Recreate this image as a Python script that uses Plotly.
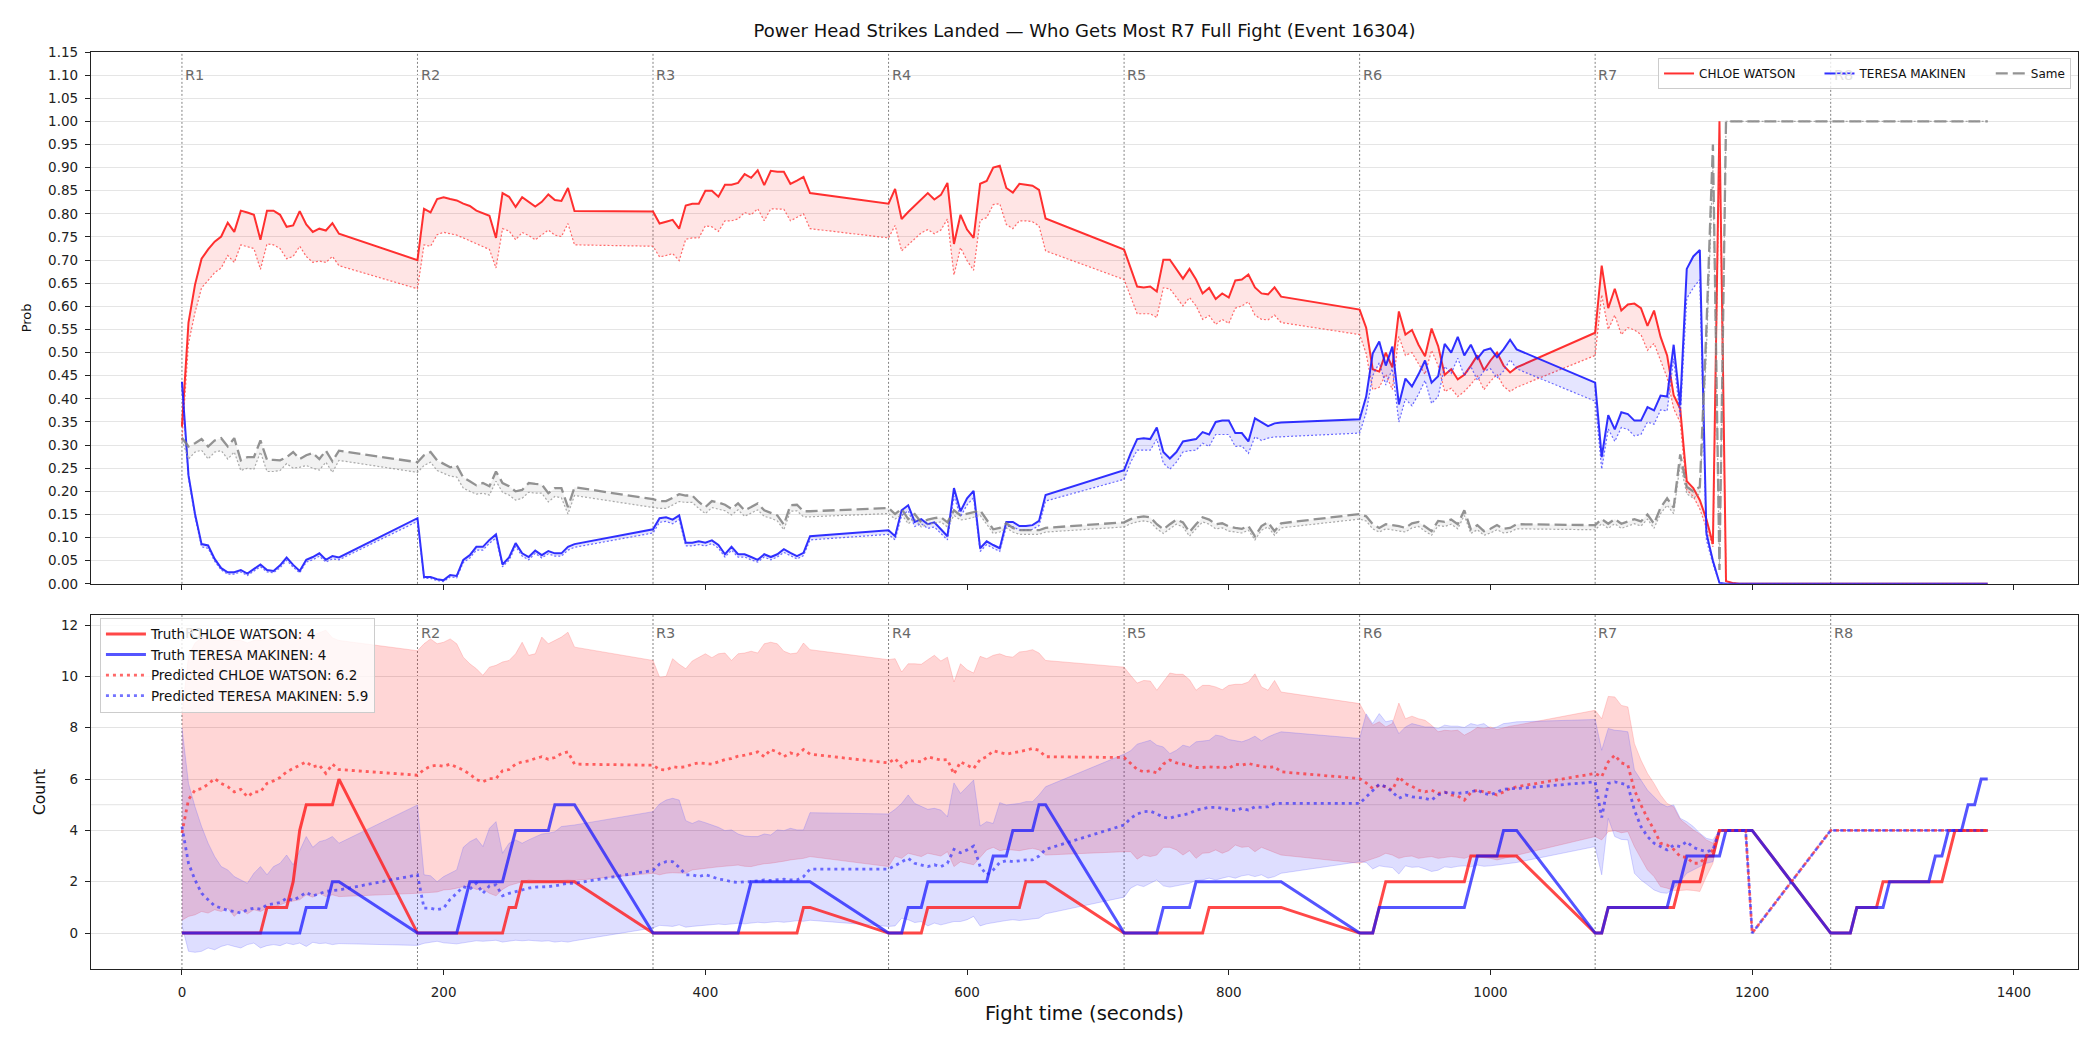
import plotly.graph_objects as go

# ---------------- time grid ----------------
ROUND_STARTS = [0, 180, 360, 540, 720, 900, 1080, 1260]
ROUND_NAMES = ["R1", "R2", "R3", "R4", "R5", "R6", "R7", "R8"]
OFFSETS = [0, 5, 10, 15, 20, 25, 30, 35, 40, 45, 50, 55, 60, 65, 70, 75, 80, 85, 90, 95, 100, 105, 110, 115, 120]
TIME = [s + o for s in ROUND_STARTS for o in OFFSETS]

FIGHTER_A = "CHLOE WATSON"
FIGHTER_B = "TERESA MAKINEN"

# ---------------- top panel: probabilities ----------------
PROB_A = [
    [0.34, 0.565, 0.647, 0.703, 0.723, 0.74, 0.751, 0.781, 0.761, 0.807, 0.803, 0.798, 0.744, 0.807, 0.807, 0.798, 0.772, 0.775, 0.806, 0.777, 0.761, 0.768, 0.764, 0.78, 0.757],
    [0.70, 0.811, 0.803, 0.832, 0.836, 0.832, 0.829, 0.822, 0.817, 0.807, 0.802, 0.796, 0.748, 0.845, 0.837, 0.815, 0.836, 0.826, 0.816, 0.826, 0.842, 0.83, 0.828, 0.856, 0.806],
    [0.805, 0.779, 0.783, 0.787, 0.768, 0.818, 0.822, 0.822, 0.85, 0.85, 0.837, 0.863, 0.863, 0.867, 0.886, 0.878, 0.894, 0.862, 0.893, 0.891, 0.891, 0.865, 0.872, 0.88, 0.845],
    [0.822, 0.854, 0.789, 0.804, 0.818, 0.833, 0.845, 0.831, 0.841, 0.867, 0.735, 0.798, 0.766, 0.748, 0.865, 0.871, 0.9, 0.904, 0.856, 0.846, 0.865, 0.863, 0.861, 0.852, 0.79],
    [0.723, 0.681, 0.643, 0.641, 0.643, 0.632, 0.701, 0.701, 0.681, 0.66, 0.681, 0.658, 0.628, 0.64, 0.616, 0.628, 0.619, 0.656, 0.658, 0.669, 0.641, 0.628, 0.626, 0.641, 0.621],
    [0.593, 0.554, 0.464, 0.459, 0.5, 0.468, 0.589, 0.539, 0.549, 0.517, 0.492, 0.552, 0.514, 0.452, 0.464, 0.442, 0.452, 0.472, 0.494, 0.462, 0.483, 0.5, 0.472, 0.457, 0.468],
    [0.543, 0.688, 0.596, 0.638, 0.591, 0.604, 0.606, 0.596, 0.558, 0.591, 0.534, 0.494, 0.408, 0.379, 0.222, 0.207, 0.181, 0.14, 0.086, 1.0, 0.006, 0.002, 0.0, 0.0, 0.0],
    [0.0] * 25,
]
PROB_A_ALT = [
    [0.31, 0.52, 0.587, 0.64, 0.656, 0.673, 0.683, 0.71, 0.695, 0.733, 0.729, 0.725, 0.68, 0.735, 0.733, 0.725, 0.703, 0.708, 0.73, 0.708, 0.695, 0.698, 0.695, 0.708, 0.688],
    [0.638, 0.733, 0.73, 0.755, 0.76, 0.757, 0.754, 0.748, 0.742, 0.736, 0.729, 0.723, 0.683, 0.768, 0.763, 0.744, 0.76, 0.753, 0.744, 0.754, 0.765, 0.754, 0.751, 0.779, 0.733],
    [0.73, 0.707, 0.71, 0.714, 0.699, 0.745, 0.748, 0.748, 0.774, 0.772, 0.762, 0.785, 0.785, 0.789, 0.803, 0.798, 0.811, 0.785, 0.811, 0.81, 0.81, 0.785, 0.792, 0.8, 0.768],
    [0.748, 0.775, 0.72, 0.733, 0.745, 0.759, 0.766, 0.757, 0.765, 0.789, 0.668, 0.727, 0.699, 0.678, 0.786, 0.792, 0.82, 0.822, 0.777, 0.768, 0.785, 0.785, 0.783, 0.774, 0.72],
    [0.658, 0.621, 0.584, 0.584, 0.584, 0.576, 0.64, 0.638, 0.619, 0.601, 0.619, 0.601, 0.572, 0.58, 0.561, 0.572, 0.563, 0.596, 0.601, 0.61, 0.581, 0.572, 0.571, 0.581, 0.565],
    [0.539, 0.498, 0.42, 0.425, 0.453, 0.42, 0.535, 0.494, 0.5, 0.476, 0.453, 0.505, 0.472, 0.416, 0.423, 0.405, 0.416, 0.431, 0.449, 0.42, 0.438, 0.453, 0.427, 0.416, 0.425],
    [0.494, 0.625, 0.55, 0.581, 0.539, 0.554, 0.549, 0.539, 0.505, 0.52, 0.483, 0.446, 0.379, 0.349, 0.203, 0.189, 0.162, 0.121, 0.08, 0.95, 0.005, 0.002, 0.0, 0.0, 0.0],
    [0.0] * 25,
]
PROB_B = [
    [0.437, 0.235, 0.151, 0.086, 0.083, 0.054, 0.034, 0.025, 0.025, 0.03, 0.022, 0.032, 0.042, 0.03, 0.028, 0.04, 0.057, 0.041, 0.028, 0.052, 0.058, 0.066, 0.052, 0.06, 0.057],
    [0.142, 0.015, 0.015, 0.01, 0.008, 0.019, 0.017, 0.052, 0.062, 0.08, 0.08, 0.095, 0.107, 0.042, 0.057, 0.088, 0.066, 0.058, 0.072, 0.062, 0.071, 0.066, 0.066, 0.08, 0.086],
    [0.118, 0.142, 0.144, 0.139, 0.148, 0.089, 0.089, 0.092, 0.089, 0.094, 0.084, 0.064, 0.08, 0.064, 0.064, 0.058, 0.052, 0.064, 0.058, 0.064, 0.075, 0.067, 0.06, 0.067, 0.103],
    [0.116, 0.103, 0.159, 0.17, 0.134, 0.14, 0.129, 0.133, 0.118, 0.103, 0.207, 0.157, 0.185, 0.201, 0.077, 0.092, 0.084, 0.077, 0.134, 0.134, 0.125, 0.125, 0.127, 0.136, 0.192],
    [0.246, 0.282, 0.313, 0.315, 0.313, 0.338, 0.285, 0.271, 0.285, 0.308, 0.31, 0.313, 0.328, 0.323, 0.35, 0.353, 0.353, 0.326, 0.326, 0.308, 0.358, 0.349, 0.341, 0.347, 0.349],
    [0.356, 0.405, 0.498, 0.524, 0.472, 0.513, 0.388, 0.444, 0.427, 0.453, 0.483, 0.435, 0.449, 0.519, 0.5, 0.534, 0.494, 0.517, 0.487, 0.505, 0.509, 0.49, 0.507, 0.528, 0.507],
    [0.435, 0.274, 0.365, 0.334, 0.371, 0.367, 0.353, 0.353, 0.382, 0.375, 0.407, 0.405, 0.517, 0.386, 0.681, 0.708, 0.722, 0.11, 0.05, 0.002, 0.0, 0.0, 0.0, 0.0, 0.0],
    [0.0] * 25,
]
PROB_B_ALT = [
    [0.43, 0.228, 0.145, 0.08, 0.077, 0.049, 0.03, 0.021, 0.021, 0.026, 0.018, 0.028, 0.037, 0.026, 0.024, 0.035, 0.051, 0.036, 0.024, 0.047, 0.052, 0.06, 0.047, 0.054, 0.052],
    [0.135, 0.012, 0.012, 0.007, 0.005, 0.015, 0.013, 0.046, 0.056, 0.073, 0.073, 0.088, 0.099, 0.037, 0.051, 0.081, 0.06, 0.052, 0.066, 0.056, 0.065, 0.06, 0.06, 0.073, 0.079],
    [0.11, 0.133, 0.135, 0.13, 0.139, 0.082, 0.082, 0.085, 0.082, 0.087, 0.077, 0.058, 0.073, 0.058, 0.058, 0.052, 0.047, 0.058, 0.052, 0.058, 0.068, 0.061, 0.054, 0.061, 0.095],
    [0.107, 0.095, 0.148, 0.158, 0.124, 0.13, 0.12, 0.123, 0.109, 0.095, 0.19, 0.145, 0.171, 0.186, 0.07, 0.085, 0.077, 0.07, 0.124, 0.124, 0.116, 0.116, 0.118, 0.126, 0.179],
    [0.226, 0.263, 0.289, 0.289, 0.289, 0.313, 0.261, 0.248, 0.263, 0.285, 0.288, 0.289, 0.304, 0.297, 0.323, 0.323, 0.323, 0.297, 0.298, 0.282, 0.318, 0.31, 0.315, 0.318, 0.318],
    [0.326, 0.37, 0.45, 0.478, 0.43, 0.465, 0.35, 0.4, 0.385, 0.41, 0.44, 0.39, 0.405, 0.47, 0.455, 0.488, 0.45, 0.47, 0.44, 0.46, 0.465, 0.445, 0.46, 0.485, 0.465],
    [0.395, 0.248, 0.335, 0.308, 0.338, 0.334, 0.32, 0.323, 0.35, 0.345, 0.376, 0.374, 0.487, 0.36, 0.617, 0.64, 0.658, 0.095, 0.043, 0.002, 0.0, 0.0, 0.0, 0.0, 0.0],
    [0.0] * 25,
]
PROB_SAME = [
    [0.316, 0.297, 0.304, 0.313, 0.297, 0.31, 0.315, 0.297, 0.315, 0.267, 0.274, 0.274, 0.31, 0.268, 0.268, 0.267, 0.274, 0.285, 0.27, 0.278, 0.283, 0.27, 0.288, 0.265, 0.288],
    [0.263, 0.278, 0.285, 0.267, 0.259, 0.252, 0.256, 0.23, 0.222, 0.213, 0.218, 0.211, 0.243, 0.218, 0.211, 0.2, 0.203, 0.218, 0.216, 0.215, 0.196, 0.207, 0.207, 0.166, 0.209],
    [0.183, 0.179, 0.179, 0.186, 0.194, 0.191, 0.191, 0.177, 0.166, 0.179, 0.176, 0.171, 0.162, 0.174, 0.159, 0.166, 0.174, 0.159, 0.154, 0.148, 0.128, 0.17, 0.171, 0.157, 0.157],
    [0.164, 0.151, 0.162, 0.14, 0.151, 0.133, 0.139, 0.142, 0.144, 0.133, 0.159, 0.148, 0.151, 0.155, 0.159, 0.139, 0.118, 0.121, 0.131, 0.121, 0.116, 0.116, 0.116, 0.116, 0.121],
    [0.133, 0.14, 0.144, 0.146, 0.144, 0.129, 0.118, 0.129, 0.139, 0.133, 0.112, 0.129, 0.144, 0.139, 0.129, 0.131, 0.124, 0.121, 0.119, 0.125, 0.103, 0.125, 0.133, 0.114, 0.131],
    [0.151, 0.146, 0.129, 0.121, 0.129, 0.127, 0.125, 0.121, 0.131, 0.134, 0.124, 0.114, 0.136, 0.134, 0.139, 0.129, 0.159, 0.118, 0.127, 0.114, 0.119, 0.127, 0.119, 0.121, 0.129],
    [0.127, 0.14, 0.13, 0.14, 0.13, 0.135, 0.14, 0.135, 0.15, 0.13, 0.165, 0.185, 0.165, 0.28, 0.21, 0.2, 0.21, 0.55, 0.95, 0.03, 1.0, 1.0, 1.0, 1.0, 1.0],
    [1.0] * 25,
]
PROB_SAME_ALT = [
    [0.31, 0.27, 0.285, 0.289, 0.27, 0.285, 0.288, 0.27, 0.285, 0.245, 0.25, 0.248, 0.285, 0.243, 0.243, 0.245, 0.26, 0.25, 0.252, 0.256, 0.25, 0.246, 0.263, 0.241, 0.267],
    [0.241, 0.256, 0.263, 0.245, 0.239, 0.233, 0.231, 0.207, 0.2, 0.194, 0.196, 0.192, 0.222, 0.198, 0.192, 0.181, 0.185, 0.198, 0.196, 0.196, 0.177, 0.189, 0.186, 0.151, 0.191],
    [0.166, 0.163, 0.163, 0.17, 0.178, 0.176, 0.176, 0.163, 0.152, 0.165, 0.162, 0.158, 0.149, 0.16, 0.146, 0.153, 0.16, 0.146, 0.142, 0.136, 0.117, 0.157, 0.158, 0.145, 0.145],
    [0.152, 0.14, 0.15, 0.13, 0.14, 0.123, 0.129, 0.132, 0.134, 0.123, 0.148, 0.138, 0.14, 0.144, 0.148, 0.129, 0.109, 0.112, 0.121, 0.112, 0.107, 0.107, 0.107, 0.107, 0.112],
    [0.123, 0.13, 0.134, 0.136, 0.134, 0.119, 0.109, 0.119, 0.129, 0.123, 0.103, 0.119, 0.134, 0.129, 0.119, 0.121, 0.114, 0.112, 0.11, 0.116, 0.095, 0.116, 0.123, 0.105, 0.121],
    [0.14, 0.136, 0.119, 0.112, 0.119, 0.117, 0.115, 0.112, 0.121, 0.124, 0.114, 0.105, 0.126, 0.124, 0.129, 0.119, 0.148, 0.109, 0.117, 0.105, 0.11, 0.117, 0.11, 0.112, 0.119],
    [0.117, 0.13, 0.12, 0.13, 0.12, 0.125, 0.13, 0.125, 0.14, 0.12, 0.152, 0.17, 0.152, 0.26, 0.195, 0.185, 0.195, 0.5, 0.9, 0.03, 1.0, 1.0, 1.0, 1.0, 1.0],
    [1.0] * 25,
]

# ---------------- bottom panel: counts ----------------
TRUTH_A = [
    [0, 0, 0, 0, 0, 0, 0, 0, 0, 0, 0, 0, 0, 1, 1, 1, 1, 2, 4, 5, 5, 5, 5, 5, 6],
    [0, 0, 0, 0, 0, 0, 0, 0, 0, 0, 0, 0, 0, 0, 1, 1, 2, 2, 2, 2, 2, 2, 2, 2, 2],
    [0, 0, 0, 0, 0, 0, 0, 0, 0, 0, 0, 0, 0, 0, 0, 0, 0, 0, 0, 0, 0, 0, 0, 1, 1],
    [0, 0, 0, 0, 0, 0, 1, 1, 1, 1, 1, 1, 1, 1, 1, 1, 1, 1, 1, 1, 1, 2, 2, 2, 2],
    [0, 0, 0, 0, 0, 0, 0, 0, 0, 0, 0, 0, 0, 1, 1, 1, 1, 1, 1, 1, 1, 1, 1, 1, 1],
    [0, 0, 0, 1, 2, 2, 2, 2, 2, 2, 2, 2, 2, 2, 2, 2, 2, 3, 3, 3, 3, 3, 3, 3, 3],
    [0, 0, 1, 1, 1, 1, 1, 1, 1, 1, 1, 1, 1, 2, 2, 2, 2, 3, 3, 4, 4, 4, 4, 4, 4],
    [0, 0, 0, 0, 1, 1, 1, 1, 2, 2, 2, 2, 2, 2, 2, 2, 2, 2, 3, 4, 4, 4, 4, 4, 4],
]
TRUTH_B = [
    [0, 0, 0, 0, 0, 0, 0, 0, 0, 0, 0, 0, 0, 0, 0, 0, 0, 0, 0, 1, 1, 1, 1, 2, 2],
    [0, 0, 0, 0, 0, 0, 0, 1, 2, 2, 2, 2, 2, 2, 3, 4, 4, 4, 4, 4, 4, 5, 5, 5, 5],
    [0, 0, 0, 0, 0, 0, 0, 0, 0, 0, 0, 0, 0, 0, 1, 2, 2, 2, 2, 2, 2, 2, 2, 2, 2],
    [0, 0, 0, 1, 1, 1, 2, 2, 2, 2, 2, 2, 2, 2, 2, 2, 3, 3, 3, 4, 4, 4, 4, 5, 5],
    [0, 0, 0, 0, 0, 0, 1, 1, 1, 1, 1, 2, 2, 2, 2, 2, 2, 2, 2, 2, 2, 2, 2, 2, 2],
    [0, 0, 0, 1, 1, 1, 1, 1, 1, 1, 1, 1, 1, 1, 1, 1, 1, 2, 3, 3, 3, 3, 4, 4, 4],
    [0, 0, 1, 1, 1, 1, 1, 1, 1, 1, 1, 1, 2, 2, 3, 3, 3, 3, 3, 3, 4, 4, 4, 4, 4],
    [0, 0, 0, 0, 1, 1, 1, 1, 1, 2, 2, 2, 2, 2, 2, 2, 3, 3, 4, 4, 4, 5, 5, 6, 6],
]
PRED_A = [
    [3.9, 5.2, 5.57, 5.63, 5.8, 6.02, 5.83, 5.7, 5.5, 5.6, 5.31, 5.5, 5.5, 5.83, 5.93, 6.06, 6.28, 6.41, 6.54, 6.67, 6.48, 6.54, 6.22, 6.58, 6.37],
    [6.15, 6.37, 6.5, 6.54, 6.5, 6.58, 6.48, 6.35, 6.19, 5.98, 5.89, 6.02, 6.02, 6.32, 6.37, 6.58, 6.67, 6.71, 6.8, 6.87, 6.77, 6.84, 6.99, 7.06, 6.58],
    [6.54, 6.37, 6.35, 6.48, 6.45, 6.48, 6.58, 6.63, 6.61, 6.58, 6.67, 6.76, 6.8, 6.89, 6.93, 6.99, 7.06, 6.87, 7.15, 7.06, 6.87, 7.02, 6.93, 7.15, 6.97],
    [6.63, 6.8, 6.48, 6.71, 6.71, 6.67, 6.87, 6.8, 6.74, 6.76, 6.19, 6.67, 6.54, 6.41, 6.76, 6.87, 7.1, 7.02, 6.97, 7.02, 7.06, 7.12, 7.19, 7.12, 6.87],
    [6.84, 6.61, 6.37, 6.28, 6.32, 6.24, 6.58, 6.74, 6.63, 6.58, 6.5, 6.45, 6.45, 6.48, 6.45, 6.48, 6.41, 6.58, 6.54, 6.61, 6.54, 6.48, 6.45, 6.48, 6.28],
    [6.02, 5.85, 5.63, 5.76, 5.7, 5.57, 6.09, 5.83, 5.72, 5.57, 5.5, 5.57, 5.44, 5.5, 5.38, 5.34, 5.18, 5.47, 5.57, 5.5, 5.47, 5.38, 5.5, 5.63, 5.7],
    [6.22, 6.09, 6.67, 6.93, 6.63, 6.54, 5.57, 4.99, 4.47, 4.02, 3.5, 3.43, 3.26, 2.98, 2.95, 2.72, 2.72, 3.0, 3.24, 4.0, 4.0, 4.0, 4.0, 4.0, 0.0],
    [4.0] * 25,
]
PRED_B = [
    [4.15, 2.72, 2.07, 1.55, 1.3, 1.06, 0.97, 0.88, 0.84, 0.78, 0.91, 0.97, 0.93, 1.1, 1.14, 1.19, 1.36, 1.27, 1.42, 1.58, 1.45, 1.55, 1.62, 1.66, 1.68],
    [2.27, 0.97, 0.97, 0.91, 0.97, 1.32, 1.55, 1.81, 1.71, 1.94, 1.55, 1.84, 1.88, 1.45, 1.55, 1.62, 1.68, 1.75, 1.79, 1.79, 1.81, 1.84, 1.88, 1.94, 1.94],
    [2.44, 2.69, 2.78, 2.78, 2.56, 2.27, 2.27, 2.2, 2.27, 2.2, 2.1, 2.07, 2.0, 1.97, 2.0, 2.0, 2.05, 2.07, 2.05, 2.07, 2.1, 2.07, 2.07, 2.2, 2.49],
    [2.49, 2.62, 2.78, 2.91, 2.72, 2.66, 2.59, 2.66, 2.59, 2.72, 3.26, 3.13, 3.24, 3.39, 2.59, 2.27, 2.46, 2.75, 2.82, 2.78, 2.82, 2.85, 2.85, 3.0, 3.26],
    [4.21, 4.47, 4.64, 4.73, 4.75, 4.64, 4.51, 4.47, 4.56, 4.6, 4.66, 4.79, 4.86, 4.9, 4.9, 4.86, 4.82, 4.77, 4.86, 4.79, 4.92, 4.9, 4.92, 5.05, 5.05],
    [5.05, 5.3, 5.57, 5.8, 5.7, 5.5, 5.25, 5.38, 5.31, 5.28, 5.25, 5.18, 5.38, 5.47, 5.47, 5.44, 5.47, 5.5, 5.57, 5.44, 5.38, 5.5, 5.6, 5.63, 5.63],
    [5.89, 4.5, 5.83, 5.89, 5.83, 5.76, 4.79, 4.15, 3.76, 3.5, 3.37, 3.24, 3.43, 3.37, 3.56, 3.34, 3.24, 3.17, 3.24, 4.0, 4.0, 4.0, 4.0, 4.0, 0.0],
    [4.0] * 25,
]
BAND_A_HI = [
    [8.5, 10.8, 11.3, 11.5, 11.6, 11.7, 11.6, 11.5, 11.4, 11.4, 11.3, 11.4, 11.4, 11.5, 11.6, 11.6, 11.7, 11.7, 11.6, 11.7, 11.6, 11.7, 11.8, 11.5, 11.4],
    [11.0, 11.27, 11.46, 11.27, 11.33, 11.46, 11.27, 10.75, 10.49, 10.3, 10.04, 10.36, 10.43, 10.56, 10.62, 10.88, 11.33, 10.82, 10.88, 11.53, 11.27, 11.4, 11.53, 11.72, 11.14],
    [10.62, 9.97, 10.0, 10.69, 10.47, 10.3, 10.6, 10.75, 10.88, 10.73, 10.88, 10.91, 10.62, 10.88, 10.91, 10.98, 10.91, 11.27, 11.33, 11.27, 10.98, 10.88, 10.91, 11.3, 11.04],
    [10.65, 10.69, 10.17, 10.49, 10.49, 10.47, 10.65, 10.82, 10.6, 10.75, 9.78, 10.49, 10.26, 10.13, 10.78, 10.69, 10.82, 10.88, 10.78, 10.75, 10.95, 10.98, 11.04, 10.91, 10.62],
    [10.36, 10.04, 9.74, 9.84, 9.82, 9.46, 9.78, 10.13, 10.08, 10.08, 9.87, 9.46, 9.65, 9.65, 9.59, 9.48, 9.65, 9.69, 9.69, 9.78, 10.1, 9.59, 9.46, 9.84, 9.39],
    [8.94, 8.48, 8.1, 8.23, 8.03, 8.16, 8.96, 8.35, 8.45, 8.35, 8.29, 8.1, 7.84, 7.9, 7.88, 7.9, 7.71, 7.84, 8.01, 7.97, 8.03, 7.93, 8.01, 8.06, 8.1],
    [8.68, 8.35, 9.22, 9.2, 8.87, 8.81, 7.38, 6.74, 6.22, 5.83, 5.38, 5.05, 4.92, 4.43, 4.21, 4.02, 3.86, 3.63, 3.5, 4.0, 4.0, 4.0, 4.0, 4.0, 0.0],
    [4.0] * 25,
]
BAND_A_LO = [
    [0.5, 0.65, 0.71, 0.84, 0.78, 0.91, 0.84, 0.97, 0.65, 0.91, 0.75, 0.91, 0.84, 0.97, 1.0, 1.1, 1.2, 1.25, 1.3, 1.49, 1.4, 1.55, 1.42, 1.49, 1.42],
    [1.55, 1.57, 1.58, 1.6, 1.68, 1.7, 1.75, 1.81, 1.81, 1.7, 1.72, 1.55, 1.45, 1.7, 1.85, 1.94, 2.0, 2.07, 2.05, 2.02, 2.0, 2.02, 2.05, 2.07, 2.05],
    [2.33, 2.27, 2.33, 2.35, 2.33, 2.33, 2.46, 2.5, 2.52, 2.55, 2.58, 2.6, 2.62, 2.65, 2.6, 2.59, 2.65, 2.7, 2.72, 2.75, 2.8, 2.85, 2.88, 2.91, 2.98],
    [2.59, 3.0, 2.91, 3.11, 3.04, 2.98, 3.11, 3.04, 3.0, 3.17, 2.59, 2.78, 2.72, 2.66, 2.95, 3.24, 3.34, 3.21, 3.26, 3.24, 3.21, 3.26, 3.3, 3.24, 3.04],
    [3.17, 3.17, 2.88, 3.04, 2.98, 3.04, 3.34, 3.34, 3.24, 3.04, 3.21, 2.91, 3.11, 3.13, 3.24, 3.11, 3.21, 3.43, 3.34, 3.37, 3.17, 3.34, 3.24, 3.13, 3.04],
    [2.72, 2.8, 2.91, 2.98, 3.11, 3.04, 2.91, 2.98, 3.0, 2.91, 2.95, 2.98, 2.91, 2.95, 2.98, 2.95, 2.91, 3.0, 2.98, 2.95, 2.91, 2.85, 2.91, 2.98, 3.04],
    [3.76, 3.63, 3.95, 3.99, 3.91, 3.95, 3.37, 2.91, 2.46, 2.2, 1.81, 1.75, 1.66, 1.66, 1.68, 1.66, 1.62, 2.2, 2.72, 4.0, 4.0, 4.0, 4.0, 4.0, 0.0],
    [4.0] * 25,
]
BAND_B_HI = [
    [8.0, 5.83, 4.92, 4.15, 3.5, 2.98, 2.59, 2.46, 2.2, 2.07, 1.94, 2.33, 2.59, 2.27, 2.59, 2.72, 3.04, 2.66, 3.24, 3.76, 3.34, 3.56, 3.63, 3.76, 3.5],
    [4.99, 2.27, 2.23, 2.0, 2.2, 2.33, 2.46, 3.34, 3.56, 3.69, 3.37, 4.08, 4.34, 3.11, 3.5, 3.63, 3.5, 3.63, 3.76, 3.86, 3.89, 3.95, 4.15, 4.17, 4.21],
    [4.73, 5.03, 5.18, 5.25, 5.18, 4.38, 4.27, 4.38, 4.3, 4.21, 4.12, 3.99, 4.02, 3.86, 3.78, 3.76, 3.76, 3.86, 3.82, 4.02, 3.99, 4.08, 4.02, 4.02, 4.69],
    [4.64, 4.82, 5.05, 5.38, 5.05, 4.92, 4.82, 4.86, 4.79, 4.53, 5.85, 5.44, 5.7, 5.96, 4.17, 4.34, 4.27, 5.08, 4.99, 5.03, 5.05, 5.12, 5.12, 5.38, 5.7],
    [6.97, 7.1, 7.36, 7.45, 7.51, 7.32, 7.25, 6.99, 7.12, 7.32, 7.25, 7.45, 7.49, 7.51, 7.71, 7.67, 7.54, 7.49, 7.45, 7.54, 7.67, 7.49, 7.64, 7.75, 7.84],
    [7.58, 8.54, 8.16, 8.55, 8.23, 8.29, 7.77, 8.03, 8.16, 8.1, 8.03, 8.03, 7.97, 8.1, 8.06, 8.06, 8.01, 8.16, 8.1, 8.16, 7.97, 8.03, 8.16, 8.19, 8.23],
    [8.32, 7.12, 7.97, 7.9, 7.88, 7.84, 6.35, 5.96, 5.57, 5.31, 5.05, 4.92, 4.99, 4.47, 4.34, 4.15, 3.89, 3.69, 3.63, 4.0, 4.0, 4.0, 4.0, 4.0, 0.0],
    [4.0] * 25,
]
BAND_B_LO = [
    [0.3, -0.71, -0.75, -0.71, -0.58, -0.65, -0.52, -0.45, -0.52, -0.58, -0.45, -0.39, -0.58, -0.49, -0.45, -0.49, -0.39, -0.45, -0.39, -0.52, -0.36, -0.41, -0.39, -0.45, -0.41],
    [-0.48, -0.4, -0.35, -0.32, -0.38, -0.4, -0.42, -0.38, -0.35, -0.3, -0.32, -0.3, -0.28, -0.35, -0.3, -0.28, -0.3, -0.28, -0.3, -0.32, -0.3, -0.35, -0.32, -0.35, -0.3],
    [0.2, 0.3, 0.28, 0.26, 0.32, 0.23, 0.26, 0.28, 0.3, 0.32, 0.35, 0.33, 0.36, 0.38, 0.36, 0.4, 0.42, 0.4, 0.43, 0.45, 0.42, 0.45, 0.48, 0.46, 0.5],
    [0.26, 0.28, 0.58, 0.52, 0.41, 0.45, 0.28, 0.39, 0.32, 0.39, 0.45, 0.45, 0.52, 0.65, 0.28, 0.36, 0.41, 0.45, 0.49, 0.52, 0.49, 0.52, 0.54, 0.58, 0.75],
    [1.4, 1.75, 1.88, 1.81, 1.94, 2.07, 1.84, 1.79, 1.84, 1.88, 1.94, 2.05, 2.07, 2.14, 2.07, 2.14, 2.2, 2.14, 2.23, 2.27, 2.2, 2.27, 2.14, 2.2, 2.33],
    [2.78, 2.75, 2.5, 2.62, 2.58, 2.55, 2.3, 2.62, 2.56, 2.58, 2.5, 2.4, 2.45, 2.58, 2.55, 2.6, 2.62, 2.58, 2.65, 2.6, 2.62, 2.65, 2.7, 2.72, 2.75],
    [3.37, 2.27, 4.47, 3.76, 3.65, 3.63, 2.33, 2.07, 1.88, 1.68, 1.58, 1.55, 1.75, 2.0, 2.33, 2.46, 2.59, 2.72, 2.78, 4.0, 4.0, 4.0, 4.0, 4.0, 0.0],
    [4.0] * 25,
]

FINAL_TRUTH_A = 4
FINAL_TRUTH_B = 4
FINAL_PRED_A = 6.2
FINAL_PRED_B = 5.9

PROB_TICKS = [0.00, 0.05, 0.10, 0.15, 0.20, 0.25, 0.30, 0.35, 0.40, 0.45, 0.50, 0.55, 0.60,
              0.65, 0.70, 0.75, 0.80, 0.85, 0.90, 0.95, 1.00, 1.05, 1.10, 1.15]
COUNT_TICKS = [0, 2, 4, 6, 8, 10, 12]
TIME_TICKS = [0, 200, 400, 600, 800, 1000, 1200, 1400]


def flat(rounds):
    return [v for r in rounds for v in r]


FONT = "DejaVu Sans"
RED = "rgba(255,25,25,0.9)"
BLUE = "rgba(25,25,255,0.9)"
GRAY = "rgba(128,128,128,0.85)"
PAD = "\u00a0" * 5   # spacing between horizontal legend entries

fig = go.Figure()

# ---- top panel traces: main line (legend), then alternate dotted line filled back to it ----
top_series = [
    (PROB_A, PROB_A_ALT, RED, "rgba(255,60,60,0.75)", "rgba(255,0,0,0.10)", FIGHTER_A + PAD, "solid", 2.0),
    (PROB_B, PROB_B_ALT, BLUE, "rgba(60,60,255,0.75)", "rgba(0,0,255,0.10)", FIGHTER_B + PAD, "solid", 2.0),
    (PROB_SAME, PROB_SAME_ALT, GRAY, "rgba(150,150,150,0.8)", "rgba(128,128,128,0.10)", "Same", "12px,5px", 2.3),
]
for main, alt, lc, dc, fc, name, dash, lw in top_series:
    fig.add_trace(go.Scatter(
        x=TIME, y=flat(main), mode="lines", xaxis="x", yaxis="y",
        line=dict(color=lc, width=lw, dash=dash), name=name, legend="legend"))
    fig.add_trace(go.Scatter(
        x=TIME, y=flat(alt), mode="lines", xaxis="x", yaxis="y",
        line=dict(color=dc, width=1.2, dash="2px,2px"),
        fill="tonexty", fillcolor=fc, showlegend=False, hoverinfo="skip"))

# ---- bottom panel traces ----
bands = [
    (BAND_A_LO, BAND_A_HI, "rgba(255,0,0,0.16)", "rgba(255,90,90,0.25)"),
    (BAND_B_LO, BAND_B_HI, "rgba(0,0,255,0.13)", "rgba(90,90,255,0.25)"),
]
for lo, hi, fc, ec in bands:
    fig.add_trace(go.Scatter(
        x=TIME, y=flat(lo), mode="lines", xaxis="x2", yaxis="y2",
        line=dict(color=ec, width=1), showlegend=False, hoverinfo="skip"))
    fig.add_trace(go.Scatter(
        x=TIME, y=flat(hi), mode="lines", xaxis="x2", yaxis="y2",
        line=dict(color=ec, width=1), fill="tonexty", fillcolor=fc,
        showlegend=False, hoverinfo="skip"))

fig.add_trace(go.Scatter(
    x=TIME, y=flat(TRUTH_A), mode="lines", xaxis="x2", yaxis="y2",
    line=dict(color="rgba(255,20,20,0.78)", width=3), legendgroup="g1",
    name=f"Truth {FIGHTER_A}: {FINAL_TRUTH_A}", legend="legend2"))
fig.add_trace(go.Scatter(
    x=TIME, y=flat(TRUTH_B), mode="lines", xaxis="x2", yaxis="y2",
    line=dict(color="rgba(20,20,255,0.72)", width=3), legendgroup="g2",
    name=f"Truth {FIGHTER_B}: {FINAL_TRUTH_B}", legend="legend2"))
fig.add_trace(go.Scatter(
    x=TIME, y=flat(PRED_A), mode="lines", xaxis="x2", yaxis="y2",
    line=dict(color="rgba(255,40,40,0.7)", width=2.8, dash="3px,4px"), legendgroup="g3",
    name=f"Predicted {FIGHTER_A}: {FINAL_PRED_A}", legend="legend2"))
fig.add_trace(go.Scatter(
    x=TIME, y=flat(PRED_B), mode="lines", xaxis="x2", yaxis="y2",
    line=dict(color="rgba(40,40,255,0.65)", width=2.8, dash="3px,4px"), legendgroup="g4",
    name=f"Predicted {FIGHTER_B}: {FINAL_PRED_B}", legend="legend2"))

# ---- round markers ----
shapes = []
annotations = []
LABEL_GRAY = "#6a6a6a"
BEHIND_LEGEND_GRAY = "#e1e1e1"   # label seen through the semi-opaque legend box
for s, nm in zip(ROUND_STARTS, ROUND_NAMES):
    for xr, yr in (("x", "y domain"), ("x2", "y2 domain")):
        shapes.append(dict(type="line", xref=xr, yref=yr, x0=s, x1=s, y0=0, y1=1,
                           line=dict(color="rgba(90,90,90,0.75)", width=1, dash="2px,2px"),
                           layer="below"))
    annotations.append(dict(x=s + 1, y=1.10, xref="x", yref="y", text=nm, showarrow=False,
                            xanchor="left", yanchor="middle",
                            font=dict(family=FONT, size=14.5,
                                      color=BEHIND_LEGEND_GRAY if nm == "R8" else LABEL_GRAY)))
    annotations.append(dict(x=s + 1, y=11.68, xref="x2", yref="y2", text=nm, showarrow=False,
                            xanchor="left", yanchor="middle",
                            font=dict(family=FONT, size=14.5,
                                      color=BEHIND_LEGEND_GRAY if nm == "R1" else LABEL_GRAY)))
# reference line at 5 in count panel
shapes.append(dict(type="line", xref="x2 domain", yref="y2", x0=0, x1=1, y0=5, y1=5,
                   line=dict(color="#e3e3e3", width=1), layer="below"))

# axis titles
annotations += [
    dict(text="Prob", xref="paper", yref="paper", x=-0.032, y=0.71, showarrow=False,
         textangle=-90, font=dict(family=FONT, size=13, color="#111"), xanchor="center", yanchor="middle"),
    dict(text="Count", xref="paper", yref="paper", x=-0.0257, y=0.193, showarrow=False,
         textangle=-90, font=dict(family=FONT, size=15.5, color="#111"), xanchor="center", yanchor="middle"),
    dict(text="Fight time (seconds)", xref="paper", yref="paper", x=0.5, y=-0.049, showarrow=False,
         font=dict(family=FONT, size=19.5, color="#111"), xanchor="center", yanchor="middle"),
]

axis_common = dict(showline=True, linecolor="#222", linewidth=1.3, mirror=True, ticks="outside",
                   ticklen=5, tickwidth=1.1, tickcolor="#222", zeroline=False,
                   tickfont=dict(family=FONT, size=13.5, color="#222"))

fig.update_layout(
    width=2100, height=1050,
    margin=dict(l=91, r=22, t=52, b=81),
    paper_bgcolor="white", plot_bgcolor="white",
    font=dict(family=FONT, color="#111"),
    title=dict(text="Power Head Strikes Landed \u2014 Who Gets Most R7 Full Fight (Event 16304)",
               x=0.5, xref="paper", xanchor="center", y=1 - 31 / 1050, yanchor="middle",
               font=dict(family=FONT, size=18, color="#111")),
    xaxis=dict(domain=[0, 1], anchor="y", range=[-69.5, 1449], tickvals=TIME_TICKS,
               showticklabels=False, showgrid=False, **axis_common),
    yaxis=dict(domain=[0.42, 1], anchor="x", range=[0, 1.15], tickvals=PROB_TICKS,
               ticktext=[f"{v:.2f}" for v in PROB_TICKS], showgrid=True, gridcolor="#e5e5e5",
               gridwidth=1, ticklabelstandoff=4, **axis_common),
    xaxis2=dict(domain=[0, 1], anchor="y2", range=[-69.5, 1449], tickvals=TIME_TICKS,
                showgrid=False, ticklabelstandoff=6, **axis_common),
    yaxis2=dict(domain=[0, 0.386], anchor="x2", range=[-1.4, 12.39], tickvals=COUNT_TICKS,
                showgrid=True, gridcolor="#e3e3e3", gridwidth=1, ticklabelstandoff=4, **axis_common),
    legend=dict(orientation="h", x=0.9965, y=0.9935, xanchor="right", yanchor="top",
                xref="paper", yref="paper", traceorder="normal",
                bgcolor="rgba(255,255,255,0.8)", bordercolor="#cccccc", borderwidth=1,
                font=dict(family=FONT, size=12, color="#111"), itemwidth=30),
    legend2=dict(orientation="v", x=0.0045, y=0.383, xanchor="left", yanchor="top",
                 xref="paper", yref="paper", traceorder="normal",
                 bgcolor="rgba(255,255,255,0.8)", bordercolor="#cccccc", borderwidth=1,
                 font=dict(family=FONT, size=13.5, color="#111"), itemwidth=40, tracegroupgap=3),
    shapes=shapes,
    annotations=annotations,
)

fig.write_html("out.html")
